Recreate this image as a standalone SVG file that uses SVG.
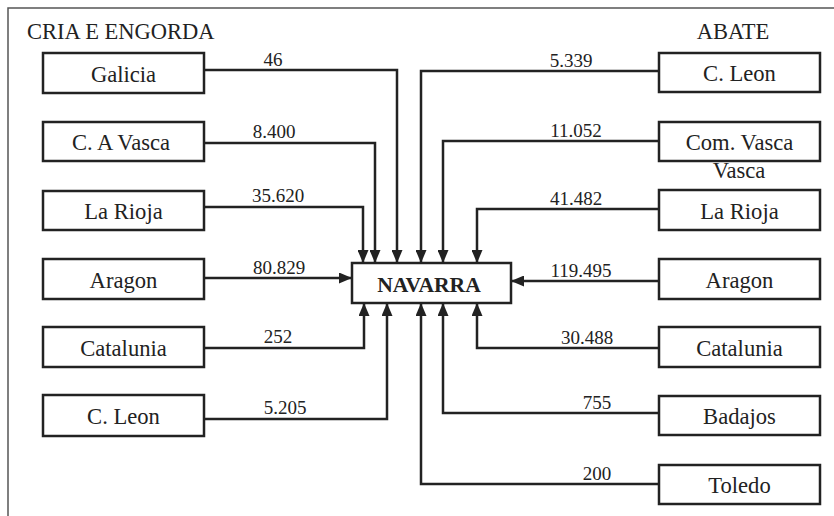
<svg xmlns="http://www.w3.org/2000/svg" width="834" height="516" viewBox="0 0 834 516" font-family="'Liberation Serif', serif">
<style>
text{font-family:'Liberation Serif','Times New Roman',serif;fill:#222}
.box{fill:#fff;stroke:#222;stroke-width:2.5}
.lbl{font-size:22.6px;text-anchor:middle}
.num{font-size:19px;text-anchor:middle}
.ttl{font-size:22.5px}
.con{fill:none;stroke:#222;stroke-width:2.5}
</style>
<defs>
<marker id="ah" markerUnits="userSpaceOnUse" markerWidth="13" markerHeight="11" refX="13" refY="5.5" orient="auto">
<path d="M0,0 L13,5.5 L0,11 z" fill="#222"/>
</marker>
</defs>
<rect width="834" height="516" fill="#fff"/>
<g id="frame"><path d="M8,516 L8,8 L834,8" fill="none" stroke="#555" stroke-width="1.5"/></g>
<text class="ttl" x="27" y="39">CRIA E ENGORDA</text>
<text class="ttl" x="733" y="39" text-anchor="middle">ABATE</text>
<g id="connectors">
<path class="con" marker-end="url(#ah)" d="M204,70 H397 V263"/>
<path class="con" marker-end="url(#ah)" d="M204,143 H375 V263"/>
<path class="con" marker-end="url(#ah)" d="M204,207 H363 V263"/>
<path class="con" marker-end="url(#ah)" d="M204,278 H352"/>
<path class="con" marker-end="url(#ah)" d="M204,348 H364 V303"/>
<path class="con" marker-end="url(#ah)" d="M204,419 H387 V303"/>
<path class="con" marker-end="url(#ah)" d="M659,71 H421 V263"/>
<path class="con" marker-end="url(#ah)" d="M659,141 H443 V263"/>
<path class="con" marker-end="url(#ah)" d="M659,209 H477 V263"/>
<path class="con" marker-end="url(#ah)" d="M659,281 H511"/>
<path class="con" marker-end="url(#ah)" d="M659,348 H477 V303"/>
<path class="con" marker-end="url(#ah)" d="M659,413 H443 V303"/>
<path class="con" marker-end="url(#ah)" d="M659,484 H421 V303"/>
<text class="num" x="273" y="66">46</text>
<text class="num" x="274" y="138">8.400</text>
<text class="num" x="278" y="202">35.620</text>
<text class="num" x="279" y="274">80.829</text>
<text class="num" x="278" y="343">252</text>
<text class="num" x="285" y="414">5.205</text>
<text class="num" x="571" y="67">5.339</text>
<text class="num" x="576" y="137">11.052</text>
<text class="num" x="576" y="205">41.482</text>
<text class="num" x="581" y="277">119.495</text>
<text class="num" x="587" y="344">30.488</text>
<text class="num" x="597" y="409">755</text>
<text class="num" x="597" y="480">200</text>
</g>
<g id="navarra"><rect class="box" x="352" y="263" width="159" height="40"/><text class="lbl" x="429" y="292" font-weight="bold" style="font-size:21.6px">NAVARRA</text></g>
<g id="l-galicia"><rect class="box" x="43" y="53" width="161" height="40"/><text class="lbl" x="123.5" y="82">Galicia</text></g>
<g id="l-cavasca"><rect class="box" x="43" y="122" width="161" height="39"/><text class="lbl" x="121" y="150">C. A Vasca</text></g>
<g id="l-larioja"><rect class="box" x="43" y="191" width="161" height="39"/><text class="lbl" x="123.5" y="219">La Rioja</text></g>
<g id="l-aragon"><rect class="box" x="43" y="259" width="161" height="40"/><text class="lbl" x="123.5" y="288">Aragon</text></g>
<g id="l-catalunia"><rect class="box" x="43" y="327" width="161" height="40"/><text class="lbl" x="123.5" y="356">Catalunia</text></g>
<g id="l-cleon"><rect class="box" x="43" y="395" width="161" height="41"/><text class="lbl" x="123.5" y="424">C. Leon</text></g>
<g id="r-cleon"><rect class="box" x="659" y="53" width="161" height="39"/><text class="lbl" x="739.5" y="81">C. Leon</text></g>
<g id="r-comvasca"><rect class="box" x="659" y="122" width="161" height="39"/><text class="lbl" x="739.5" y="150">Com. Vasca</text><text class="lbl" x="739" y="178">Vasca</text></g>
<g id="r-larioja"><rect class="box" x="659" y="190" width="161" height="40"/><text class="lbl" x="739.5" y="219">La Rioja</text></g>
<g id="r-aragon"><rect class="box" x="659" y="259" width="161" height="40"/><text class="lbl" x="739.5" y="288">Aragon</text></g>
<g id="r-catalunia"><rect class="box" x="659" y="327" width="161" height="40"/><text class="lbl" x="739.5" y="356">Catalunia</text></g>
<g id="r-badajos"><rect class="box" x="659" y="396" width="161" height="39"/><text class="lbl" x="739.5" y="424">Badajos</text></g>
<g id="r-toledo"><rect class="box" x="659" y="465" width="161" height="39"/><text class="lbl" x="739.5" y="493">Toledo</text></g>
</svg>
